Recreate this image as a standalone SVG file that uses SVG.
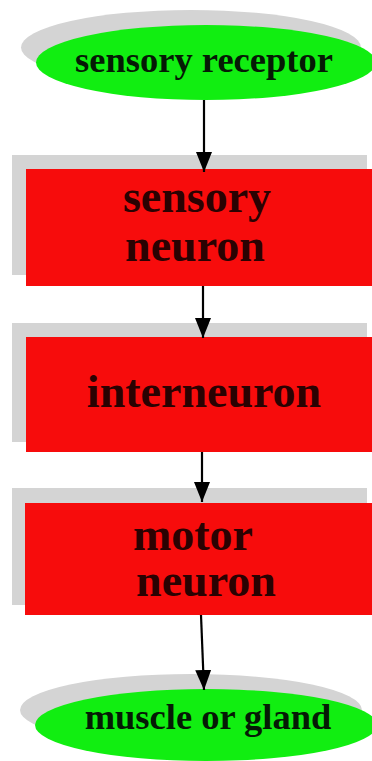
<svg xmlns="http://www.w3.org/2000/svg" width="372" height="761" viewBox="0 0 372 761">
<defs>
<style>
.shadow{fill:#d4d4d4}
.oval{fill:#11ee11}
.box{fill:#f70c0c}
.t{font-family:"Liberation Serif",serif;font-weight:bold;text-anchor:middle}
.ts{font-size:36.5px;fill:#051a05}
.tb{font-size:46px;fill:#2a0202}
.edge{stroke:#000;stroke-width:2.2;fill:none}
</style>
<marker id="ah" viewBox="0 0 20 16" refX="20" refY="8" markerWidth="20" markerHeight="16" markerUnits="userSpaceOnUse" orient="auto">
<path d="M0,0 L20,8 L0,16 Z" fill="#000"/>
</marker>
</defs>
<rect width="372" height="761" fill="#fff"/>
<g id="sensory-receptor">
<ellipse class="shadow" cx="191" cy="47.5" rx="170" ry="37.5"/>
<ellipse class="oval" cx="206" cy="62.5" rx="170" ry="37.5"/>
<text class="t ts" x="204" y="72">sensory receptor</text>
</g>
<g id="sensory-neuron">
<rect class="shadow" x="12" y="155" width="355" height="120"/>
<rect class="box" x="26" y="169" width="360" height="117"/>
<text class="t tb" x="197" y="212">sensory</text>
<text class="t tb" x="195" y="261">neuron</text>
</g>
<g id="interneuron">
<rect class="shadow" x="12" y="323" width="355" height="119"/>
<rect class="box" x="26" y="337" width="360" height="115"/>
<text class="t tb" x="204" y="407">interneuron</text>
</g>
<g id="motor-neuron">
<rect class="shadow" x="12" y="488" width="355" height="117"/>
<rect class="box" x="25" y="503" width="360" height="112"/>
<text class="t tb" x="193" y="550">motor</text>
<text class="t tb" x="206" y="596">neuron</text>
</g>
<g id="muscle-or-gland">
<ellipse class="shadow" cx="191" cy="710" rx="171" ry="36"/>
<ellipse class="oval" cx="206" cy="725" rx="171" ry="36"/>
<text class="t ts" x="208" y="729">muscle or gland</text>
</g>
<g id="connectors">
<line class="edge" x1="204" y1="100" x2="204" y2="172" marker-end="url(#ah)"/>
<line class="edge" x1="203" y1="286" x2="203" y2="338" marker-end="url(#ah)"/>
<line class="edge" x1="202" y1="452" x2="202" y2="502" marker-end="url(#ah)"/>
<line class="edge" x1="201" y1="615" x2="204" y2="690" marker-end="url(#ah)"/>
</g>
</svg>
